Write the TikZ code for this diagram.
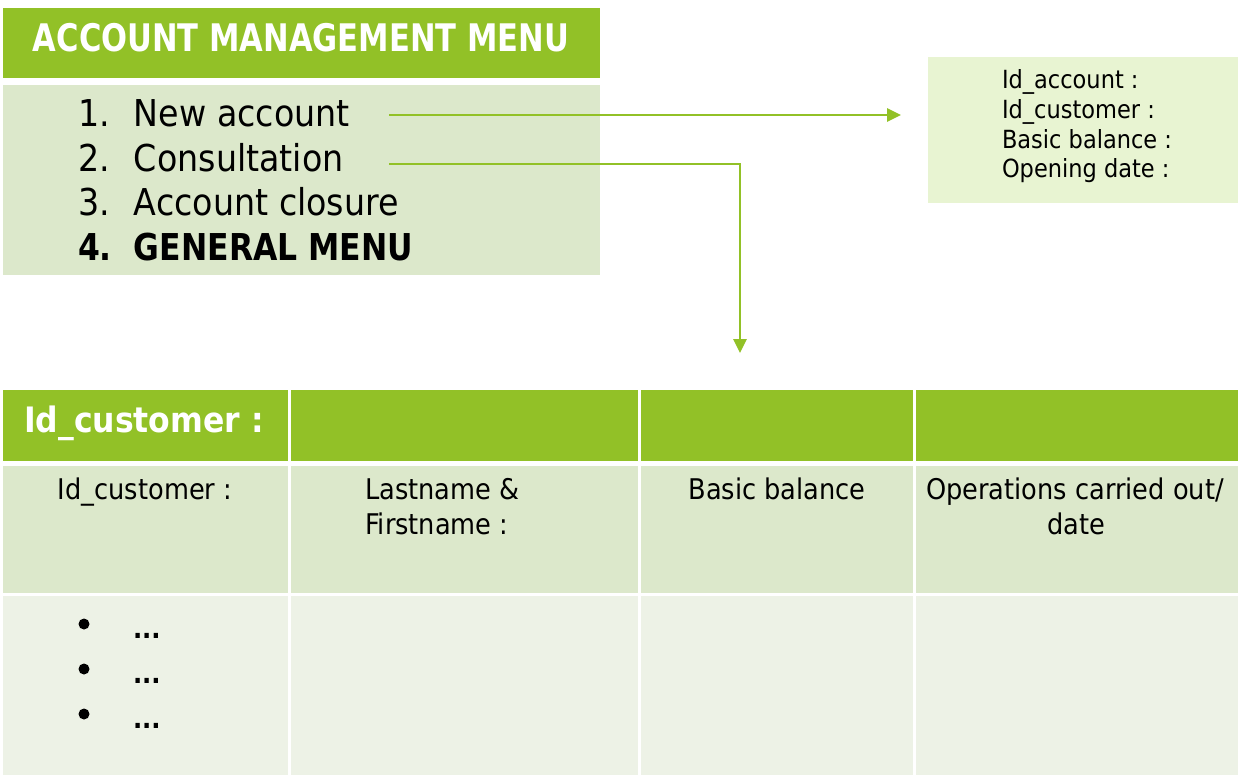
\documentclass[tikz,border=0pt]{standalone}
\usepackage{fontspec}
\setmainfont{DejaVu Sans}[FakeStretch=0.9]
\newfontfamily\titlefont{DejaVu Sans}[FakeStretch=0.805]
\newfontfamily\genfont{DejaVu Sans}[FakeStretch=0.85]
\usetikzlibrary{arrows.meta}
\definecolor{hdrgreen}{RGB}{146,193,39}
\definecolor{menubg}{RGB}{220,232,203}
\definecolor{infobg}{RGB}{232,244,210}
\definecolor{rowbg}{RGB}{237,242,230}
\tikzset{
  cell/.style={anchor=north west, inner sep=0pt, outer sep=0pt, draw=none},
  txt/.style={inner sep=0pt, outer sep=0pt, text=black},
  conn/.style={draw=hdrgreen, line width=2.6pt, -{Triangle[length=14pt,width=13pt]}},
}
\newcommand{\itm}[2]{\makebox[56pt][l]{#1}#2}
\begin{document}
\begin{tikzpicture}[x=1pt,y=-1pt]
\useasboundingbox (0,0) rectangle (1243,777);
% title and menu
\node[cell, fill=hdrgreen, minimum width=597pt, minimum height=70pt] (title) at (3,8) {};
\node[cell, fill=menubg, minimum width=597pt, minimum height=190pt] (menu) at (3,85) {};
\node[txt, anchor=base, text=white, font=\titlefont\bfseries\fontsize{38}{44}\selectfont] (titletxt) at (301,51) {ACCOUNT MANAGEMENT MENU};
\node[txt, anchor=base west, font=\fontsize{37}{42}\selectfont] (it1) at (78,126) {\itm{1.}{New account}};
\node[txt, anchor=base west, font=\fontsize{37}{42}\selectfont] (it2) at (78,171) {\itm{2.}{Consultation}};
\node[txt, anchor=base west, font=\fontsize{37}{42}\selectfont] (it3) at (78,215) {\itm{3.}{Account closure}};
\node[txt, anchor=base west, font=\genfont\bfseries\fontsize{37}{42}\selectfont] (it4) at (78,260) {\itm{4.}{GENERAL MENU}};
% info box
\node[cell, fill=infobg, minimum width=310pt, minimum height=146pt] (info) at (928,57) {};
\node[txt, anchor=base west, font=\fontsize{25}{30}\selectfont] (i1) at (1002,88) {Id\_account :};
\node[txt, anchor=base west, font=\fontsize{25}{30}\selectfont] (i2) at (1002,118) {Id\_customer :};
\node[txt, anchor=base west, font=\fontsize{25}{30}\selectfont] (i3) at (1002,148) {Basic balance :};
\node[txt, anchor=base west, font=\fontsize{25}{30}\selectfont] (i4) at (1002,177) {Opening date :};
% table
\node[cell, fill=hdrgreen, minimum width=285pt, minimum height=71pt] (h1) at (3,390) {};
\node[cell, fill=hdrgreen, minimum width=347pt, minimum height=71pt] (h2) at (291,390) {};
\node[cell, fill=hdrgreen, minimum width=272pt, minimum height=71pt] (h3) at (641,390) {};
\node[cell, fill=hdrgreen, minimum width=322pt, minimum height=71pt] (h4) at (916,390) {};
\node[cell, fill=menubg, minimum width=285pt, minimum height=127pt] (r1) at (3,466) {};
\node[cell, fill=menubg, minimum width=347pt, minimum height=127pt] (r2) at (291,466) {};
\node[cell, fill=menubg, minimum width=272pt, minimum height=127pt] (r3) at (641,466) {};
\node[cell, fill=menubg, minimum width=322pt, minimum height=127pt] (r4) at (916,466) {};
\node[cell, fill=rowbg, minimum width=285pt, minimum height=179pt] (s1) at (3,596) {};
\node[cell, fill=rowbg, minimum width=347pt, minimum height=179pt] (s2) at (291,596) {};
\node[cell, fill=rowbg, minimum width=272pt, minimum height=179pt] (s3) at (641,596) {};
\node[cell, fill=rowbg, minimum width=322pt, minimum height=179pt] (s4) at (916,596) {};
\node[txt, anchor=base west, text=white, font=\bfseries\fontsize{35}{40}\selectfont] (htxt) at (24,432) {Id\_customer :};
\node[txt, anchor=base, font=\fontsize{28.5}{32}\selectfont] (c1) at (145,499) {Id\_customer :};
\node[txt, anchor=base west, font=\fontsize{28.5}{32}\selectfont] (c2a) at (365,499) {Lastname \&};
\node[txt, anchor=base west, font=\fontsize{28.5}{32}\selectfont] (c2b) at (365,534) {Firstname :};
\node[txt, anchor=base, font=\fontsize{28.5}{32}\selectfont] (c3) at (777,499) {Basic balance};
\node[txt, anchor=base, font=\fontsize{28.5}{32}\selectfont] (c4a) at (1075,499) {Operations carried out/};
\node[txt, anchor=base, font=\fontsize{28.5}{32}\selectfont] (c4b) at (1076,534) {date};
\foreach \y/\n in {624/1,669/2,714/3}{
  \fill (84,\y) circle (5.5pt);
  \node[txt, anchor=base west, font=\bfseries\fontsize{27}{32}\selectfont] (dots\n) at (133,\y+14) {...};
}
% connectors
\coordinate (a1) at (389,115);
\coordinate (a2) at (389,164);
\coordinate (e2) at (740,353);
\draw[conn, shorten >=27pt] (a1) -- (a1 -| info.west);
\draw[conn] (a2) -| (e2);
\end{tikzpicture}
\end{document}
